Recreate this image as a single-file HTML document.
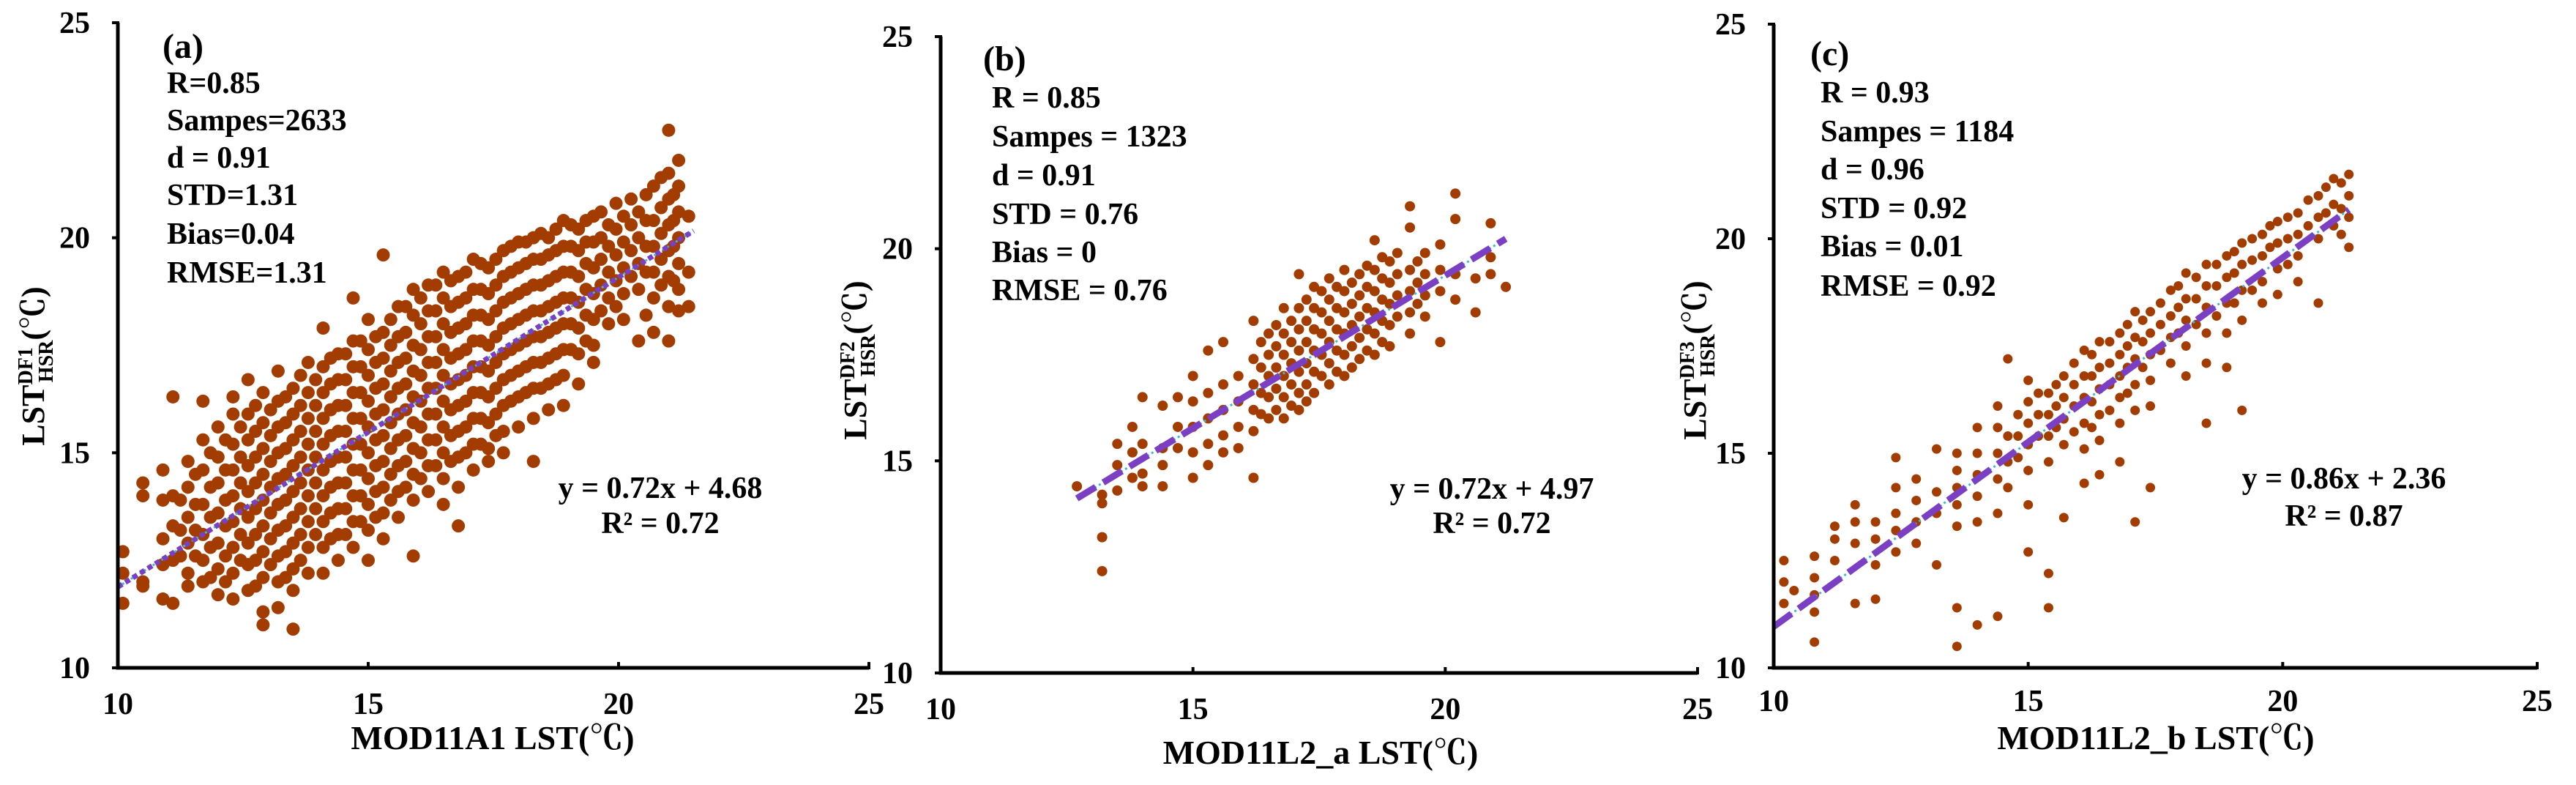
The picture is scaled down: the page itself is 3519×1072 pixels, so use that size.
<!DOCTYPE html>
<html><head><meta charset="utf-8">
<style>
html,body{margin:0;padding:0;background:#fff;}
svg{display:block;font-family:"Liberation Serif","Noto Serif CJK SC",serif;font-weight:bold;}
</style></head>
<body>
<svg id="fig" width="3519" height="1072" viewBox="0 0 3519 1072" xmlns="http://www.w3.org/2000/svg"></svg>
<script>
const tickValues=[10,15,20,25];
// panel (a) columns: [x, [y values]]
const colsA=[[10.1,[12.7,11.5,12.2]],[10.5,[14.3,14.0,12.0,11.9]],[10.9,[14.6,13.9,13.0,12.4,11.6]],[11.1,[16.3,14.0,13.3,12.5,11.5]],[11.4,[14.8,14.2,13.5,12.9,12.2,11.9]],[11.7,[16.2,15.3,14.6,13.8,13.1,12.5,12.0]],[12.0,[15.6,14.9,14.3,13.6,12.9,12.3,11.7]],[12.3,[16.3,15.9,15.2,14.6,14.0,13.4,12.8,12.2,11.6]],[12.6,[16.7,15.9,15.3,14.7,14.1,13.5,12.9,12.4,11.8]],[12.9,[16.4,15.7,15.1,14.5,13.9,13.3,12.7,12.1,11.3,11.0]],[13.2,[16.9,16.2,15.6,15.0,14.4,13.8,13.2,12.6,12.0,11.4]],[13.5,[16.5,15.9,15.3,14.7,14.1,13.5,12.9,12.3,11.8,10.9]],[13.8,[17.1,16.4,15.8,15.2,14.6,14.0,13.4,12.8,12.2]],[14.1,[17.9,17.0,16.4,15.8,15.2,14.6,14.0,13.4,12.8,12.2]],[14.4,[17.3,16.7,16.1,15.5,14.9,14.3,13.7,13.1,12.5]],[14.7,[18.6,17.6,17.0,16.4,15.8,15.2,14.6,14.0,13.4,12.8]],[15.0,[18.1,17.4,16.8,16.2,15.6,15.0,14.4,13.8,13.2,12.5]],[15.3,[19.6,17.8,17.2,16.6,16.0,15.4,14.8,14.2,13.6,13.0]],[15.6,[18.4,17.7,17.1,16.5,15.9,15.3,14.7,14.1,13.5]],[15.9,[18.8,18.2,17.5,16.9,16.3,15.7,15.1,14.5,13.9,12.6]],[16.2,[18.9,18.3,17.7,17.1,16.5,15.9,15.3,14.7,14.1]],[16.5,[19.2,18.6,18.0,17.4,16.8,16.2,15.6,15.0,14.4,13.8]],[16.8,[19.1,18.5,17.9,17.3,16.7,16.1,15.5,14.9,14.2,13.3]],[17.1,[19.5,18.8,18.2,17.6,17.0,16.4,15.8,15.2,14.6]],[17.4,[19.3,18.7,18.1,17.5,16.9,16.3,15.7,15.1,14.8]],[17.7,[19.7,19.1,18.5,17.9,17.3,16.7,16.1,15.5,15.0]],[18.0,[19.9,19.3,18.7,18.1,17.5,16.9,16.3,15.6]],[18.3,[20.0,19.5,18.9,18.3,17.7,17.1,16.5,15.8,14.8]],[18.6,[20.0,19.6,19.0,18.4,17.8,17.2,16.6,16.0]],[18.9,[20.4,19.8,19.2,18.6,18.0,17.4,16.8,16.1]],[19.2,[20.2,19.7,19.1,18.5,17.9,17.3,16.6]],[19.5,[20.5,19.9,19.3,18.7,18.1,17.5,17.1]],[19.8,[20.3,19.8,19.2,18.6,18.0]],[20.1,[20.5,19.9,19.3,18.7,18.1]],[20.4,[20.6,20.0,19.4,18.8,17.6]],[20.7,[21.2,20.4,19.8,19.2,18.6,17.8]],[21.0,[22.5,21.5,20.9,20.3,19.7,19.1,18.4,17.6]],[21.2,[21.8,21.2,20.6,20.0,19.4,18.8,18.3]],[21.4,[20.5,19.2,18.4]]];
// panel (a) interleaved extra points
const colsA2=[[11.25,[13.9,13.2,12.6]],[11.55,[14.5,13.8,13.2,12.6]],[11.85,[15.0,14.2,13.5,12.8,12.1]],[12.15,[15.3,14.6,13.9,13.3,12.6,12.0]],[12.45,[15.6,14.9,14.3,13.7,13.1,12.5]],[12.75,[16.1,15.5,14.9,14.3,13.7,13.1,12.5,11.9]],[13.05,[16.0,15.4,14.8,14.2,13.6,13.0,12.4]],[13.35,[16.3,15.7,15.1,14.5,13.9,13.3,12.7,12.1]],[13.65,[16.8,16.1,15.5,14.9,14.3,13.7,13.1,12.5]],[13.95,[16.7,16.1,15.5,14.9,14.3,13.7,13.1]],[14.25,[17.2,16.6,16.0,15.4,14.8,14.2,13.6,13.0]],[14.55,[17.3,16.7,16.1,15.5,14.9,14.3,13.7,13.1]],[14.85,[17.6,17.0,16.4,15.8,15.2,14.6,14.0,13.4]],[15.15,[17.7,17.1,16.5,15.9,15.3,14.7,14.1,13.5]],[15.45,[18.1,17.5,16.9,16.3,15.7,15.1,14.5,13.9]],[15.75,[18.4,17.8,17.2,16.6,16.0,15.4,14.8,14.2]],[16.05,[18.6,18.0,17.4,16.8,16.2,15.6,15.0,14.4]],[16.35,[18.9,18.3,17.7,17.1,16.5,15.9,15.3,14.7]],[16.65,[19.0,18.4,17.8,17.2,16.6,16.0,15.4,14.8]],[16.95,[19.2,18.6,18.0,17.4,16.8,16.2,15.6,15.0]],[17.25,[19.4,18.8,18.2,17.6,17.0,16.4,15.8,15.2]],[17.55,[19.5,18.9,18.3,17.7,17.1,16.5,15.9,15.4]],[17.85,[19.8,19.2,18.6,18.0,17.4,16.8,16.2]],[18.15,[19.9,19.4,18.8,18.2,17.6,17.0,16.4]],[18.45,[20.1,19.5,18.9,18.3,17.7,17.1,16.5]],[18.75,[20.2,19.7,19.1,18.5,17.9,17.3,16.7]],[19.05,[20.3,19.8,19.2,18.6,18.0,17.4]],[19.35,[20.4,19.9,19.4,18.8,18.2,17.6]],[19.65,[20.6,20.0,19.5,18.9,18.3]],[19.95,[20.8,20.2,19.6,19.0,18.4]],[20.25,[20.9,20.3,19.7,19.1]],[20.55,[21.0,20.4,19.8,19.2,18.2]],[20.85,[21.4,20.7,20.1,19.5,18.9]],[21.1,[21.0,20.4,19.8,19.0]]];
const colsB=[[12.7,[14.4]],[13.2,[14.2,14.0,13.2,12.4]],[13.5,[15.4,14.9,14.3]],[13.8,[15.8,15.2,14.6]],[14.0,[16.5,15.4,14.7,14.4]],[14.4,[16.3,15.3,14.9,14.4]],[14.7,[16.5,15.8,15.3]],[15.0,[17.0,16.4,15.8,15.2,14.6]],[15.3,[17.6,16.6,16.0,15.4,14.9]],[15.6,[17.8,16.8,16.2,15.6,15.2]],[15.9,[17.0,16.4,15.8,15.3]],[16.2,[18.3,17.4,16.8,16.2,15.7,14.6]],[16.5,[18.0,17.5,17.0,16.5,16.0]],[16.8,[18.6,18.0,17.5,17.0,16.5,16.0]],[17.1,[19.4,18.6,18.1,17.6,17.1,16.6,16.2]],[17.4,[19.1,18.6,18.1,17.6,17.1,16.6]],[17.7,[19.3,18.8,18.3,17.8,17.3,16.8]],[18.0,[19.5,19.0,18.5,18.0,17.5,17.0]],[18.3,[19.4,18.9,18.4,17.9,17.4]],[18.6,[20.2,19.5,19.0,18.5,18.0,17.5]],[18.9,[19.7,19.2,18.7,18.2,17.7]],[19.3,[21.0,20.5,19.5,19.0,18.5,18.0]],[19.6,[19.9,19.4,18.9,18.4]],[19.9,[20.1,19.5,19.0,17.8]],[20.2,[21.3,20.7,19.4,18.8]],[20.6,[19.3,18.5]],[20.9,[20.6,19.8,19.4]],[21.2,[19.1]]];
// panel (b) interleaved extra points (dense core)
const colsB2=[[16.35,[17.8,17.2,16.6,16.1]],[16.65,[18.2,17.7,17.2,16.7,16.2]],[16.95,[18.3,17.8,17.3,16.8,16.3]],[17.25,[18.8,18.3,17.8,17.3,16.8,16.4]],[17.55,[19.0,18.5,18.0,17.5,17.0]],[17.85,[19.1,18.6,18.1,17.6,17.1]],[18.15,[19.2,18.7,18.2,17.7,17.2]],[18.45,[19.6,19.1,18.6,18.1,17.6]],[18.75,[19.8,19.3,18.8,18.3,17.8]],[19.05,[19.9,19.4,18.9,18.4]],[19.45,[19.7,19.2,18.7]]];
const colsC=[[10.2,[12.5,12.0,11.5]],[10.4,[11.8]],[10.8,[12.6,12.1,11.7,11.3,10.6]],[11.2,[13.3,13.0,12.5]],[11.6,[13.8,13.4,12.9,11.5]],[12.0,[13.4,13.0,12.4,11.6]],[12.4,[14.9,14.2,13.6,13.2,12.7]],[12.8,[14.4,13.9,13.4,12.9]],[13.2,[15.1,14.1,13.6,12.4]],[13.6,[15.0,14.6,14.2,13.8,13.3,11.4,10.5]],[14.0,[15.6,15.0,14.5,14.0,13.4,11.0]],[14.4,[16.1,15.6,15.0,14.4,13.6,11.2]],[14.6,[17.2,15.4,14.8,14.2]],[15.0,[16.7,16.2,15.7,15.2,14.6,13.8,12.7]],[15.4,[16.4,15.9,15.4,14.8,12.2,11.4]],[15.7,[16.8,16.3,15.8,15.2,13.5]],[16.1,[17.4,16.8,16.3,15.7,15.1,14.3]],[16.4,[17.6,17.0,16.5,15.9,15.3,14.5]],[16.8,[17.8,17.3,16.8,16.3,15.7,14.8]],[17.1,[18.3,17.7,17.2,16.6,16.0,13.4]],[17.4,[18.3,17.8,17.3,16.7,16.1,14.2]],[17.8,[18.8,18.2,17.7,17.1]],[18.1,[19.2,18.6,18.1,17.5,16.8]],[18.5,[19.4,18.9,18.4,17.8,17.1,15.7]],[18.9,[19.6,19.1,18.5,17.8,17.0]],[19.2,[19.9,19.4,18.8,18.1,16.0]],[19.6,[20.1,19.6,19.0,18.5]],[19.9,[20.4,19.9,19.3,18.7]],[20.3,[20.6,20.1,19.6,19.0]],[20.7,[21.0,20.5,20.0,18.5]],[21.0,[21.4,20.8,20.3]],[21.3,[21.5,21.0,20.5,19.8]]];
// panel (c) interleaved extra points
const colsC2=[[14.8,[15.9,15.4,14.9]],[15.2,[16.4,15.9,15.4]],[15.55,[16.6,16.1,15.6]],[15.9,[17.1,16.6,16.1,15.5]],[16.25,[17.3,16.8,16.2,15.6]],[16.6,[17.6,17.1,16.6,16.0]],[16.95,[18.0,17.5,17.0,16.4]],[17.25,[18.1,17.6,17.0]],[17.6,[18.5,18.0,17.4]],[17.95,[18.9,18.4,17.8]],[18.3,[19.1,18.6,18.0]],[18.7,[19.4,18.9,18.2]],[19.05,[19.7,19.2,18.5]],[19.4,[20.0,19.5,18.8]],[19.75,[20.3,19.8]],[20.1,[20.5,20.0,19.4]],[20.5,[20.9,20.3]],[20.85,[21.2,20.6]],[21.15,[21.3,20.7,20.1]]];
const slopes=[0.72,0.72,0.86];
const intercepts=[4.68,4.97,2.36];
const fitRanges=[[10,21.5],[12.7,21.2],[10,21.3]];

const NS="http://www.w3.org/2000/svg";
const svg=document.getElementById('fig');
function mk(tag,attrs,parent){const e=document.createElementNS(NS,tag);for(const k in attrs)e.setAttribute(k,attrs[k]);(parent||svg).appendChild(e);return e;}

const panels=[
 {id:'a',cols:colsA.concat(colsA2),x0:161,x1:1187,y0:912,y1:31,r:9,lab:[222,79],sx:228,sy:[127,178,229,280,333,386],
  stats:['R=0.85','Sampes=2633','d = 0.91','STD=1.31','Bias=0.04','RMSE=1.31'],eq:[902,680,728],
  xlab:'MOD11A1 LST(℃)',xl:[673,1023],tb:975,yt:[46,500],sup:'DF1',dash:'7 5'},
 {id:'b',cols:colsB.concat(colsB2),x0:1285,x1:2319,y0:919,y1:50,r:7,lab:[1343,96],sx:1355,sy:[147,200,253,306,358,410],
  stats:['R = 0.85','Sampes = 1323','d = 0.91','STD = 0.76','Bias = 0','RMSE = 0.76'],eq:[2038,681,728],
  xlab:'MOD11L2_a LST(℃)',xl:[1804,1043],tb:982,yt:[1169,492],sup:'DF2',dash:'30 12'},
 {id:'c',cols:colsC.concat(colsC2),x0:2423,x1:3466,y0:912,y1:33,r:6.5,lab:[2473,89],sx:2487,sy:[140,193,245,298,350,404],
  stats:['R = 0.93','Sampes = 1184','d = 0.96','STD = 0.92','Bias = 0.01','RMSE = 0.92'],eq:[3202,667,718],
  xlab:'MOD11L2_b LST(℃)',xl:[2945,1023],tb:971,yt:[2316,492],sup:'DF3',dash:'30 12'}
];

panels.forEach((p,i)=>{
 const g=mk('g',{});
 
 
 const X=v=>p.x0+(v-10)/15*(p.x1-p.x0);
 const Y=v=>p.y0-(v-10)/15*(p.y0-p.y1);
 const pg=mk('g',{fill:'#a33c00'},g);
 
 
 p.cols.forEach(c=>c[1].forEach(yv=>{
  const d=mk('circle',{cx:X(c[0]),cy:Y(yv),r:p.r},pg);
  
  
 }));
 const fr=fitRanges[i];
 const xa=fr[0],xb=fr[1];
 const ya=slopes[i]*xa+intercepts[i],yb=slopes[i]*xb+intercepts[i];
 const l1=mk('line',{x1:X(xa),y1:Y(ya),x2:X(xb),y2:Y(yb),stroke:'#3fb8d8','stroke-width':3,'stroke-dasharray':'3 4'},g);
 
 
 const l2=mk('line',{x1:X(xa),y1:Y(ya),x2:X(xb),y2:Y(yb),stroke:'#7b3fc4','stroke-width':p.id==='a'?7:9,'stroke-dasharray':p.dash},g);
 
 
 const ax=mk('path',{d:`M${p.x0},${p.y1} L${p.x0},${p.y0} L${p.x1},${p.y0}`,fill:'none',stroke:'#000','stroke-width':5},g);
 
 
 tickValues.forEach(t=>{
  const tx=mk('line',{x1:X(t),y1:p.y0-8,x2:X(t),y2:p.y0+2,stroke:'#000','stroke-width':4},g);
  
  
  const ty=mk('line',{x1:p.x0-8,y1:Y(t),x2:p.x0+2,y2:Y(t),stroke:'#000','stroke-width':4},g);
  
  
  const xl=mk('text',{x:X(t),y:p.tb,'font-size':42,'text-anchor':'middle'},g);
  xl.textContent=t;
  
  
  const yl=mk('text',{x:p.x0-38,y:Y(t)+14,'font-size':42,'text-anchor':'end'},g);
  yl.textContent=t;
  
  
 });
 const lab=mk('text',{x:p.lab[0],y:p.lab[1],'font-size':48},g);
 lab.textContent='('+p.id+')';
 
 
 p.stats.forEach((s,k)=>{
  const t=mk('text',{x:p.sx,y:p.sy[k],'font-size':42},g);
  t.textContent=s;
  
  
 });
 const e1=mk('text',{x:p.eq[0],y:p.eq[1],'font-size':42,'text-anchor':'middle'},g);
 e1.textContent='y = '+slopes[i].toFixed(2)+'x + '+intercepts[i].toFixed(2);
 
 
 const e2=mk('text',{x:p.eq[0],y:p.eq[2],'font-size':42,'text-anchor':'middle'},g);
 e2.textContent='R² = '+['0.72','0.72','0.87'][i];
 
 
 const xt=mk('text',{x:p.xl[0],y:p.xl[1],'font-size':46,'text-anchor':'middle'},g);
 xt.textContent=p.xlab;
 
 
 const yt=mk('text',{x:0,y:0,'font-size':44,'text-anchor':'middle',transform:`translate(${p.yt[0]+14},${p.yt[1]}) rotate(-90)`},g);
 
 
 const s1=mk('tspan',{},yt);s1.textContent='LST';
 const s2=mk('tspan',{'font-size':28,dy:-16},yt);s2.textContent=p.sup;
 const s3=mk('tspan',{'font-size':28,dx:-48,dy:28},yt);s3.textContent='HSR';
 const s4=mk('tspan',{dy:-12},yt);s4.textContent='(℃)';
});
</script>
</body></html>
